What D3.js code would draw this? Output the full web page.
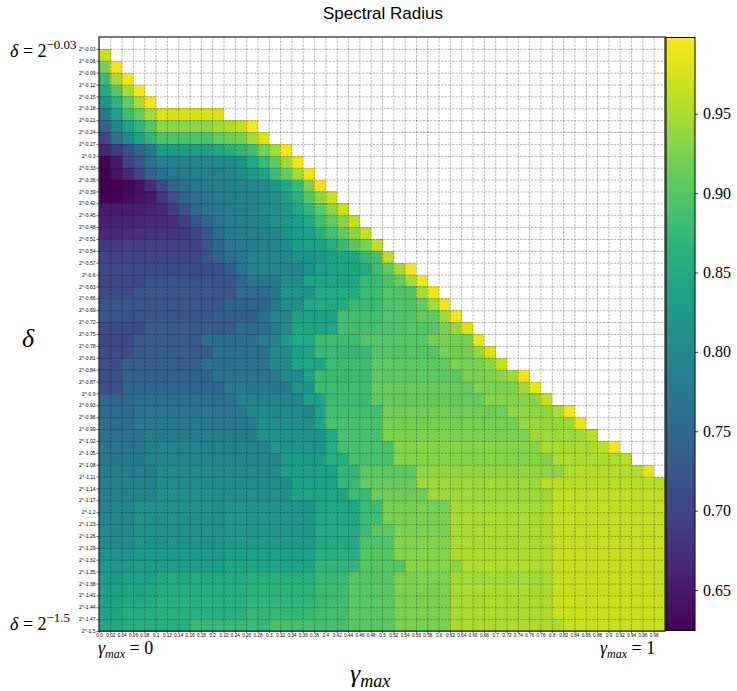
<!DOCTYPE html>
<html><head><meta charset="utf-8">
<script src="https://cdn.jsdelivr.net/npm/d3@7"></script>
<style>body{margin:0;background:#fff}svg{display:block}</style>
</head><body>
<svg id="c" width="737" height="691"></svg>
<script>
const gammaLabels = ["0.0","0.02","0.04","0.06","0.08","0.1","0.12","0.14","0.16","0.18","0.2","0.22","0.24","0.26","0.28","0.3","0.32","0.34","0.36","0.38","0.4","0.42","0.44","0.46","0.48","0.5","0.52","0.54","0.56","0.58","0.6","0.62","0.64","0.66","0.68","0.7","0.72","0.74","0.76","0.78","0.8","0.82","0.84","0.86","0.88","0.9","0.92","0.94","0.96","0.98"];
const deltaLabels = ["2^-0.03","2^-0.06","2^-0.09","2^-0.12","2^-0.15","2^-0.18","2^-0.21","2^-0.24","2^-0.27","2^-0.3","2^-0.33","2^-0.36","2^-0.39","2^-0.42","2^-0.45","2^-0.48","2^-0.51","2^-0.54","2^-0.57","2^-0.6","2^-0.63","2^-0.66","2^-0.69","2^-0.72","2^-0.75","2^-0.78","2^-0.81","2^-0.84","2^-0.87","2^-0.9","2^-0.93","2^-0.96","2^-0.99","2^-1.02","2^-1.05","2^-1.08","2^-1.11","2^-1.14","2^-1.17","2^-1.2","2^-1.23","2^-1.26","2^-1.29","2^-1.32","2^-1.35","2^-1.38","2^-1.41","2^-1.44","2^-1.47","2^-1.5"];
const colorbarTicks = [0.65,0.70,0.75,0.80,0.85,0.90,0.95];
const colorDomain = [0.6245, 0.998];
const deltaEnds = ["−0.03","−1.5"];
const gammaEnds = ["0","1"];
// rows: delta (top to bottom), cols: gamma_max; missing cells are blank
const spectralRadius = [
[],
[0.967],
[0.922,0.990],
[0.878,0.948,0.992],
[0.848,0.900,0.948,0.992],
[0.820,0.866,0.910,0.948,0.992],
[0.775,0.838,0.885,0.910,0.948,0.975,0.975,0.975,0.975,0.975,0.978],
[0.740,0.792,0.840,0.870,0.900,0.935,0.935,0.935,0.935,0.935,0.948,0.950,0.962,0.995],
[0.700,0.765,0.800,0.838,0.870,0.893,0.893,0.893,0.893,0.893,0.910,0.915,0.922,0.948,0.978],
[0.665,0.688,0.712,0.745,0.775,0.825,0.828,0.830,0.832,0.835,0.848,0.860,0.872,0.885,0.920,0.948,0.992],
[0.630,0.650,0.695,0.725,0.765,0.785,0.785,0.790,0.790,0.795,0.800,0.805,0.815,0.848,0.878,0.910,0.945,0.990],
[0.625,0.640,0.665,0.700,0.740,0.765,0.775,0.780,0.785,0.785,0.790,0.795,0.805,0.825,0.840,0.878,0.910,0.948,0.990],
[0.624,0.625,0.632,0.640,0.672,0.705,0.748,0.765,0.772,0.778,0.782,0.786,0.790,0.795,0.805,0.825,0.848,0.880,0.925,0.988],
[0.626,0.630,0.636,0.642,0.648,0.680,0.715,0.745,0.765,0.772,0.778,0.782,0.786,0.790,0.800,0.810,0.835,0.865,0.900,0.935,0.968],
[0.650,0.652,0.655,0.658,0.662,0.668,0.690,0.720,0.750,0.768,0.775,0.780,0.785,0.788,0.800,0.810,0.820,0.848,0.870,0.905,0.935,0.965],
[0.658,0.660,0.662,0.664,0.666,0.668,0.672,0.695,0.720,0.748,0.768,0.775,0.780,0.785,0.795,0.815,0.825,0.832,0.848,0.885,0.910,0.932,0.965],
[0.668,0.668,0.670,0.672,0.678,0.680,0.682,0.685,0.700,0.725,0.760,0.775,0.780,0.782,0.785,0.790,0.815,0.825,0.835,0.862,0.888,0.910,0.932,0.962],
[0.685,0.688,0.692,0.694,0.696,0.697,0.698,0.699,0.700,0.722,0.745,0.770,0.775,0.780,0.785,0.790,0.800,0.832,0.836,0.840,0.858,0.878,0.900,0.922,0.960],
[0.700,0.700,0.701,0.702,0.702,0.703,0.703,0.704,0.705,0.722,0.745,0.765,0.772,0.790,0.792,0.794,0.796,0.815,0.818,0.820,0.840,0.842,0.845,0.877,0.890,0.960],
[0.708,0.708,0.709,0.709,0.710,0.710,0.711,0.711,0.712,0.712,0.714,0.730,0.765,0.785,0.788,0.790,0.792,0.795,0.810,0.838,0.840,0.842,0.845,0.855,0.880,0.905,0.948,0.990],
[0.705,0.705,0.705,0.705,0.720,0.720,0.720,0.720,0.720,0.720,0.720,0.720,0.745,0.770,0.770,0.770,0.805,0.805,0.845,0.845,0.845,0.845,0.845,0.877,0.877,0.893,0.910,0.948,0.990],
[0.706,0.706,0.706,0.722,0.722,0.722,0.722,0.722,0.722,0.722,0.722,0.722,0.755,0.755,0.755,0.770,0.820,0.820,0.820,0.850,0.850,0.850,0.850,0.880,0.880,0.895,0.895,0.895,0.948,0.990],
[0.725,0.725,0.725,0.725,0.725,0.725,0.725,0.725,0.725,0.725,0.725,0.745,0.745,0.745,0.745,0.765,0.810,0.810,0.850,0.850,0.850,0.850,0.877,0.877,0.877,0.895,0.895,0.895,0.910,0.948,0.990],
[0.725,0.725,0.725,0.725,0.725,0.725,0.725,0.725,0.725,0.725,0.735,0.735,0.735,0.735,0.765,0.790,0.790,0.840,0.840,0.840,0.840,0.885,0.885,0.885,0.885,0.895,0.895,0.895,0.910,0.910,0.945,0.990],
[0.712,0.712,0.712,0.712,0.730,0.730,0.730,0.730,0.730,0.730,0.730,0.730,0.755,0.755,0.755,0.775,0.800,0.845,0.845,0.845,0.845,0.887,0.887,0.887,0.887,0.895,0.895,0.900,0.900,0.900,0.922,0.940,0.978],
[0.705,0.705,0.705,0.730,0.730,0.730,0.730,0.730,0.730,0.760,0.760,0.760,0.760,0.760,0.785,0.785,0.830,0.850,0.850,0.880,0.880,0.880,0.880,0.900,0.900,0.900,0.900,0.900,0.900,0.920,0.920,0.920,0.920,0.985],
[0.710,0.710,0.710,0.735,0.735,0.735,0.735,0.735,0.735,0.735,0.765,0.765,0.765,0.765,0.765,0.800,0.800,0.840,0.840,0.878,0.878,0.878,0.878,0.878,0.900,0.900,0.900,0.900,0.900,0.900,0.920,0.920,0.920,0.940,0.975],
[0.712,0.712,0.737,0.737,0.737,0.737,0.737,0.737,0.737,0.765,0.765,0.765,0.765,0.765,0.765,0.800,0.800,0.845,0.845,0.845,0.880,0.880,0.880,0.880,0.905,0.905,0.905,0.905,0.905,0.905,0.905,0.922,0.922,0.922,0.935,0.965],
[0.715,0.715,0.742,0.742,0.742,0.742,0.742,0.742,0.742,0.742,0.770,0.770,0.770,0.770,0.770,0.770,0.800,0.800,0.840,0.880,0.880,0.880,0.880,0.880,0.905,0.905,0.905,0.905,0.905,0.905,0.905,0.905,0.925,0.925,0.925,0.935,0.945,0.992],
[0.715,0.715,0.748,0.748,0.748,0.748,0.748,0.748,0.748,0.748,0.748,0.775,0.775,0.775,0.775,0.775,0.775,0.820,0.820,0.880,0.880,0.880,0.880,0.880,0.910,0.910,0.910,0.910,0.910,0.910,0.910,0.910,0.910,0.925,0.925,0.925,0.925,0.945,0.985],
[0.748,0.748,0.748,0.765,0.765,0.765,0.765,0.765,0.765,0.765,0.765,0.765,0.790,0.790,0.790,0.790,0.790,0.790,0.840,0.840,0.880,0.880,0.880,0.880,0.910,0.910,0.910,0.910,0.910,0.910,0.910,0.910,0.910,0.910,0.930,0.930,0.930,0.930,0.930,0.965],
[0.755,0.755,0.755,0.770,0.770,0.770,0.770,0.770,0.770,0.770,0.770,0.770,0.770,0.800,0.800,0.800,0.800,0.800,0.800,0.840,0.885,0.885,0.885,0.885,0.885,0.915,0.915,0.915,0.915,0.915,0.915,0.915,0.915,0.915,0.915,0.915,0.935,0.935,0.935,0.935,0.950,0.992],
[0.757,0.757,0.757,0.775,0.775,0.775,0.775,0.775,0.775,0.775,0.775,0.775,0.775,0.775,0.810,0.810,0.810,0.810,0.810,0.845,0.890,0.890,0.890,0.890,0.890,0.920,0.920,0.920,0.920,0.920,0.920,0.920,0.920,0.920,0.920,0.920,0.920,0.940,0.940,0.940,0.940,0.940,0.985],
[0.762,0.762,0.762,0.762,0.780,0.780,0.780,0.780,0.780,0.780,0.780,0.780,0.780,0.780,0.815,0.815,0.815,0.815,0.815,0.815,0.850,0.890,0.890,0.890,0.890,0.925,0.925,0.925,0.925,0.925,0.925,0.925,0.925,0.925,0.925,0.925,0.925,0.925,0.945,0.945,0.945,0.945,0.945,0.958],
[0.770,0.770,0.770,0.770,0.790,0.790,0.790,0.790,0.790,0.790,0.790,0.790,0.790,0.790,0.790,0.820,0.820,0.820,0.820,0.820,0.855,0.890,0.890,0.890,0.890,0.890,0.930,0.930,0.930,0.930,0.930,0.930,0.930,0.930,0.930,0.930,0.930,0.930,0.930,0.950,0.950,0.950,0.950,0.950,0.958,0.992],
[0.775,0.775,0.775,0.775,0.795,0.795,0.795,0.795,0.795,0.795,0.795,0.795,0.795,0.795,0.795,0.795,0.830,0.830,0.830,0.830,0.860,0.860,0.890,0.890,0.890,0.890,0.930,0.930,0.930,0.930,0.930,0.930,0.930,0.930,0.930,0.930,0.930,0.930,0.930,0.930,0.950,0.950,0.950,0.950,0.950,0.950,0.958],
[0.780,0.780,0.780,0.780,0.780,0.800,0.800,0.800,0.800,0.800,0.800,0.800,0.800,0.800,0.800,0.800,0.835,0.835,0.835,0.835,0.835,0.870,0.870,0.905,0.905,0.905,0.905,0.905,0.935,0.935,0.935,0.935,0.935,0.935,0.935,0.935,0.935,0.935,0.935,0.935,0.935,0.955,0.955,0.955,0.955,0.955,0.955,0.955,0.985],
[0.785,0.785,0.785,0.785,0.785,0.805,0.805,0.805,0.805,0.805,0.805,0.805,0.805,0.805,0.805,0.805,0.805,0.840,0.840,0.840,0.840,0.875,0.875,0.910,0.910,0.910,0.910,0.910,0.942,0.942,0.942,0.942,0.942,0.942,0.942,0.942,0.942,0.942,0.942,0.960,0.960,0.960,0.960,0.960,0.960,0.960,0.960,0.960,0.960,0.960],
[0.790,0.790,0.790,0.790,0.790,0.810,0.810,0.810,0.810,0.810,0.810,0.810,0.810,0.810,0.810,0.810,0.810,0.845,0.845,0.845,0.845,0.845,0.880,0.880,0.915,0.915,0.915,0.915,0.915,0.945,0.945,0.945,0.945,0.945,0.945,0.945,0.945,0.945,0.945,0.945,0.962,0.962,0.962,0.962,0.962,0.962,0.962,0.962,0.962,0.962],
[0.795,0.795,0.795,0.810,0.810,0.810,0.810,0.810,0.810,0.810,0.810,0.820,0.820,0.820,0.820,0.820,0.820,0.820,0.820,0.845,0.845,0.845,0.845,0.880,0.880,0.920,0.920,0.920,0.920,0.920,0.920,0.948,0.948,0.948,0.948,0.948,0.948,0.948,0.948,0.948,0.963,0.963,0.963,0.963,0.963,0.963,0.963,0.963,0.963,0.963],
[0.798,0.798,0.798,0.812,0.812,0.812,0.812,0.812,0.812,0.812,0.812,0.822,0.822,0.822,0.822,0.822,0.822,0.822,0.822,0.848,0.848,0.848,0.848,0.882,0.882,0.922,0.922,0.922,0.922,0.922,0.922,0.950,0.950,0.950,0.950,0.950,0.950,0.950,0.950,0.950,0.964,0.964,0.964,0.964,0.964,0.964,0.964,0.964,0.964,0.964],
[0.800,0.800,0.800,0.815,0.815,0.815,0.815,0.815,0.815,0.815,0.815,0.825,0.825,0.825,0.825,0.825,0.825,0.825,0.825,0.850,0.850,0.850,0.850,0.880,0.905,0.905,0.925,0.925,0.925,0.925,0.925,0.950,0.950,0.950,0.950,0.950,0.950,0.950,0.950,0.950,0.965,0.965,0.965,0.965,0.965,0.965,0.965,0.965,0.965,0.965],
[0.805,0.805,0.805,0.818,0.818,0.818,0.818,0.818,0.818,0.818,0.818,0.828,0.828,0.828,0.828,0.828,0.828,0.828,0.828,0.852,0.852,0.852,0.852,0.895,0.895,0.895,0.928,0.928,0.928,0.928,0.928,0.952,0.952,0.952,0.952,0.952,0.952,0.952,0.952,0.952,0.966,0.966,0.966,0.966,0.966,0.966,0.966,0.966,0.966,0.966],
[0.815,0.815,0.815,0.825,0.825,0.825,0.825,0.825,0.825,0.825,0.825,0.835,0.835,0.835,0.835,0.835,0.835,0.835,0.835,0.858,0.858,0.858,0.858,0.900,0.900,0.900,0.930,0.930,0.930,0.930,0.930,0.952,0.952,0.952,0.952,0.952,0.952,0.952,0.952,0.952,0.966,0.966,0.966,0.966,0.966,0.966,0.966,0.966,0.966,0.966],
[0.825,0.825,0.825,0.832,0.832,0.832,0.832,0.832,0.832,0.832,0.832,0.845,0.845,0.845,0.845,0.845,0.845,0.845,0.845,0.870,0.870,0.870,0.870,0.900,0.900,0.900,0.900,0.932,0.932,0.932,0.932,0.932,0.953,0.953,0.953,0.953,0.953,0.953,0.953,0.953,0.967,0.967,0.967,0.967,0.967,0.967,0.967,0.967,0.967,0.967],
[0.830,0.830,0.840,0.840,0.840,0.850,0.850,0.850,0.850,0.850,0.850,0.850,0.850,0.862,0.862,0.862,0.862,0.862,0.862,0.878,0.878,0.878,0.900,0.900,0.900,0.900,0.925,0.925,0.925,0.925,0.925,0.948,0.948,0.948,0.948,0.948,0.948,0.948,0.948,0.948,0.967,0.967,0.967,0.967,0.967,0.967,0.967,0.967,0.967,0.967],
[0.835,0.835,0.845,0.845,0.845,0.855,0.855,0.855,0.855,0.855,0.855,0.855,0.855,0.866,0.866,0.866,0.866,0.866,0.866,0.880,0.880,0.880,0.902,0.902,0.902,0.902,0.925,0.925,0.925,0.925,0.925,0.950,0.950,0.950,0.950,0.950,0.950,0.950,0.950,0.950,0.967,0.967,0.967,0.967,0.967,0.967,0.967,0.967,0.967,0.967],
[0.840,0.840,0.850,0.850,0.850,0.858,0.858,0.858,0.858,0.858,0.858,0.858,0.858,0.870,0.870,0.870,0.870,0.870,0.870,0.882,0.882,0.882,0.903,0.903,0.903,0.903,0.925,0.925,0.925,0.925,0.925,0.950,0.950,0.950,0.950,0.950,0.950,0.950,0.950,0.950,0.968,0.968,0.968,0.968,0.968,0.968,0.968,0.968,0.968,0.968],
[0.843,0.843,0.855,0.855,0.855,0.862,0.862,0.862,0.862,0.862,0.862,0.862,0.862,0.875,0.875,0.875,0.875,0.875,0.875,0.885,0.885,0.885,0.905,0.905,0.905,0.905,0.925,0.925,0.925,0.925,0.925,0.950,0.950,0.950,0.950,0.950,0.950,0.950,0.950,0.950,0.968,0.968,0.968,0.968,0.968,0.968,0.968,0.968,0.968,0.968],
[0.848,0.848,0.860,0.860,0.860,0.860,0.860,0.860,0.877,0.877,0.877,0.877,0.877,0.877,0.877,0.888,0.888,0.888,0.888,0.888,0.888,0.888,0.902,0.902,0.902,0.902,0.922,0.922,0.922,0.922,0.922,0.950,0.950,0.950,0.950,0.950,0.950,0.950,0.950,0.950,0.950,0.968,0.968,0.968,0.968,0.968,0.968,0.968,0.968,0.968]
];

const svg = d3.select("#c");
const plot = {left: 99, right: 665, top: 37, bottom: 631};
const serif = "'Liberation Serif','DejaVu Serif',serif";
const sans = "'Liberation Sans',Arial,sans-serif";

const x = d3.scaleBand().domain(gammaLabels).range([plot.left, plot.right]);
const y = d3.scaleBand().domain(deltaLabels).range([plot.top, plot.bottom]);
const color = d3.scaleSequential(d3.interpolateViridis).domain(colorDomain);

// tick positions: gamma at left cell edges, delta at bottom cell edges
const xTick = d3.scalePoint().domain(gammaLabels).range([plot.left, plot.right - x.bandwidth()]);
const yTick = d3.scalePoint().domain(deltaLabels).range([plot.top + y.bandwidth(), plot.bottom]);

const cells = spectralRadius.flatMap((row, r) => row.map((v, c) => ({r, c, v})));
svg.append("g").attr("shape-rendering", "crispEdges")
  .selectAll("rect").data(cells).join("rect")
  .attr("x", d => x(gammaLabels[d.c]))
  .attr("y", d => y(deltaLabels[d.r]))
  .attr("width", x.bandwidth() + 0.5)
  .attr("height", y.bandwidth() + 0.5)
  .attr("fill", d => color(d.v));

// grid
const gridStyle = g => {
  g.select(".domain").remove();
  g.selectAll(".tick line").attr("stroke", "#000").attr("stroke-opacity", 0.33)
    .attr("stroke-width", 0.9).attr("stroke-dasharray", "2.4,1.2");
};
svg.append("g").attr("transform", `translate(0,${plot.top})`)
  .call(d3.axisBottom(xTick).tickSize(plot.bottom - plot.top).tickFormat(""))
  .call(gridStyle);
svg.append("g").attr("transform", `translate(${plot.left},0)`)
  .call(d3.axisRight(yTick).tickSize(plot.right - plot.left).tickFormat(""))
  .call(gridStyle);

// plot border
svg.append("rect").attr("x", plot.left).attr("y", plot.top)
  .attr("width", plot.right - plot.left).attr("height", plot.bottom - plot.top)
  .attr("fill", "none").attr("stroke", "#333").attr("stroke-width", 1.3);

// axes tick labels
const tickStyle = size => g => {
  g.select(".domain").remove();
  g.selectAll(".tick line").attr("stroke", "#000").attr("stroke-width", 0.6);
  g.selectAll("text").attr("font-family", sans).attr("font-size", size).attr("fill", "#000");
};
svg.append("g").attr("transform", `translate(0,${plot.bottom})`)
  .call(d3.axisBottom(xTick).tickSize(2).tickPadding(1.2))
  .call(tickStyle(4.6));
svg.append("g").attr("transform", `translate(${plot.left},0)`)
  .call(d3.axisLeft(yTick).tickSize(2.5).tickPadding(1))
  .call(tickStyle(5));

// colorbar
const cb = {left: 666, right: 695, top: 37.5, bottom: 630.5};
const defs = svg.append("defs");
const grad = defs.append("linearGradient").attr("id", "vir")
  .attr("x1", 0).attr("y1", 1).attr("x2", 0).attr("y2", 0);
d3.range(0, 1.0001, 0.02).forEach(t => {
  grad.append("stop").attr("offset", t).attr("stop-color", d3.interpolateViridis(t));
});
svg.append("rect").attr("x", cb.left).attr("y", cb.top)
  .attr("width", cb.right - cb.left).attr("height", cb.bottom - cb.top)
  .attr("fill", "url(#vir)").attr("stroke", "#000").attr("stroke-width", 1);
const cbScale = d3.scaleLinear().domain(colorDomain).range([cb.bottom, cb.top]);
svg.append("g").attr("transform", `translate(${cb.right},0)`)
  .call(d3.axisRight(cbScale).tickValues(colorbarTicks).tickSize(3).tickPadding(5).tickFormat(d3.format(".2f")))
  .call(g => {
    g.select(".domain").remove();
    g.selectAll(".tick line").attr("stroke", "#000").attr("stroke-width", 0.8);
    g.selectAll("text").attr("font-family", serif).attr("font-size", 16).attr("fill", "#000");
  });

// title
svg.append("text").attr("x", 383).attr("y", 19).attr("text-anchor", "middle")
  .attr("font-family", sans).attr("font-size", 17).attr("fill", "#000")
  .text("Spectral Radius");

// delta labels on the left
function deltaEq(yPos, exp) {
  const t = svg.append("text").attr("x", 10).attr("y", yPos)
    .attr("font-family", serif).attr("font-size", 18).attr("fill", "#000");
  t.append("tspan").attr("font-style", "italic").text("δ");
  t.append("tspan").text(" = 2");
  t.append("tspan").attr("font-size", 13).attr("dy", -8).text(exp);
}
deltaEq(57, deltaEnds[0]);
deltaEq(630, deltaEnds[1]);
svg.append("text").attr("x", 22).attr("y", 347).attr("font-family", serif)
  .attr("font-size", 26).attr("font-style", "italic").attr("fill", "#000").text("δ");

// gamma labels at bottom
function gammaEq(xPos, val) {
  const t = svg.append("text").attr("x", xPos).attr("y", 654)
    .attr("font-family", serif).attr("font-size", 18).attr("fill", "#000");
  t.append("tspan").attr("font-style", "italic").text("γ");
  t.append("tspan").attr("font-style", "italic").attr("font-size", 12).attr("dy", 4).text("max");
  t.append("tspan").attr("dy", -4).text(" = " + val);
}
gammaEq(98, gammaEnds[0]);
gammaEq(600, gammaEnds[1]);
const gt = svg.append("text").attr("x", 350).attr("y", 682)
  .attr("font-family", serif).attr("font-size", 26).attr("fill", "#000");
gt.append("tspan").attr("font-style", "italic").text("γ");
gt.append("tspan").attr("font-style", "italic").attr("font-size", 18).attr("dy", 5).text("max");
</script>
</body></html>
